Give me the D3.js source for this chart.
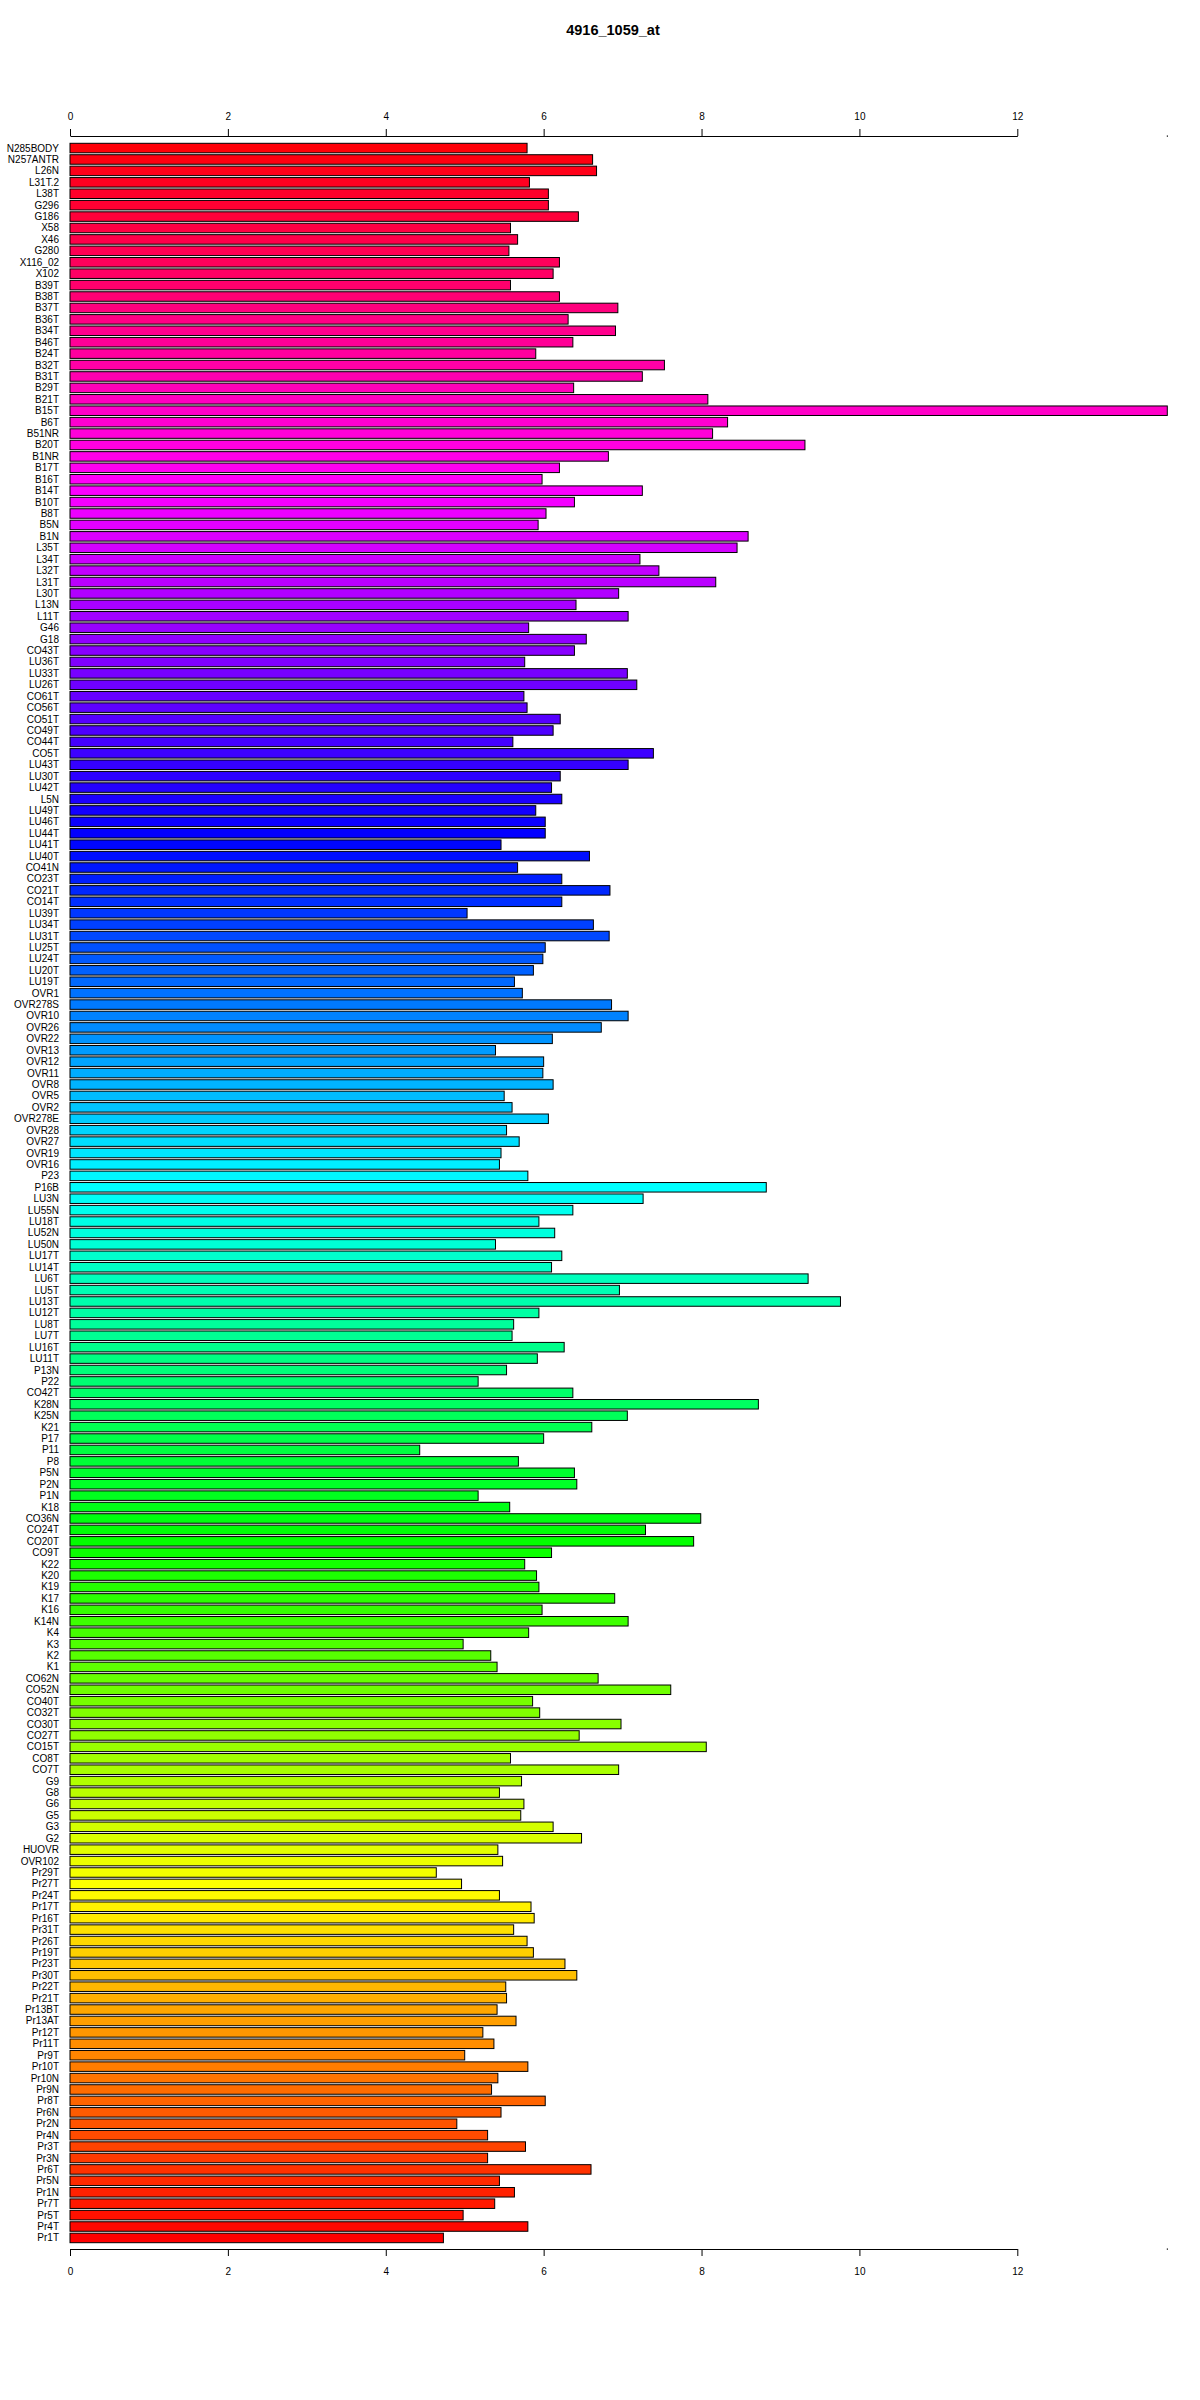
<!DOCTYPE html>
<html>
<head>
<meta charset="utf-8">
<script src="https://cdn.jsdelivr.net/npm/d3@7"></script>
<style>
  html, body { margin: 0; padding: 0; background: #fff; }
  svg { display: block; }
  text { font-family: "Liberation Sans", Arial, sans-serif; }
</style>
</head>
<body>
<div id="chart"></div>
<script>
// Categories, top to bottom as drawn
const categories = [
  "N285BODY","N257ANTR","L26N","L31T.2","L38T","G296","G186","X58","X46","G280","X116_02","X102","B39T",
  "B38T","B37T","B36T","B34T","B46T","B24T","B32T","B31T","B29T","B21T","B15T","B6T","B51NR","B20T","B1NR",
  "B17T","B16T","B14T","B10T","B8T","B5N","B1N","L35T","L34T","L32T","L31T","L30T","L13N","L11T","G46","G18",
  "CO43T","LU36T","LU33T","LU26T","CO61T","CO56T","CO51T","CO49T","CO44T","CO5T","LU43T","LU30T","LU42T","L5N","LU49T",
  "LU46T","LU44T","LU41T","LU40T","CO41N","CO23T","CO21T","CO14T","LU39T","LU34T","LU31T","LU25T","LU24T","LU20T","LU19T",
  "OVR1","OVR278S","OVR10","OVR26","OVR22","OVR13","OVR12","OVR11","OVR8","OVR5","OVR2","OVR278E","OVR28","OVR27","OVR19",
  "OVR16","P23","P16B","LU3N","LU55N","LU18T","LU52N","LU50N","LU17T","LU14T","LU6T","LU5T","LU13T","LU12T","LU8T","LU7T",
  "LU16T","LU11T","P13N","P22","CO42T","K28N","K25N","K21","P17","P11","P8","P5N","P2N","P1N","K18",
  "CO36N","CO24T","CO20T","CO9T","K22","K20","K19","K17","K16","K14N","K4","K3","K2","K1","CO62N",
  "CO52N","CO40T","CO32T","CO30T","CO27T","CO15T","CO8T","CO7T","G9","G8","G6","G5","G3","G2","HUOVR","OVR102",
  "Pr29T","Pr27T","Pr24T","Pr17T","Pr16T","Pr31T","Pr26T","Pr19T","Pr23T","Pr30T","Pr22T","Pr21T","Pr13BT","Pr13AT","Pr12T",
  "Pr11T","Pr9T","Pr10T","Pr10N","Pr9N","Pr8T","Pr6N","Pr2N","Pr4N","Pr3T","Pr3N","Pr6T","Pr5N","Pr1N","Pr7T","Pr5T","Pr4T","Pr1T"
];

// Expression values, same order
const values = [
  5.79,6.62,6.67,5.82,6.06,6.06,6.44,5.58,5.67,5.56,6.20,6.12,5.58,
  6.20,6.94,6.31,6.91,6.37,5.90,7.53,7.25,6.38,8.08,13.90,8.33,8.14,9.31,6.82,
  6.20,5.98,7.25,6.39,6.03,5.93,8.59,8.45,7.22,7.46,8.18,6.95,6.41,7.07,5.81,6.54,
  6.39,5.76,7.06,7.18,5.75,5.79,6.21,6.12,5.61,7.39,7.07,6.21,6.10,6.23,5.90,
  6.02,6.02,5.46,6.58,5.67,6.23,6.84,6.23,5.03,6.63,6.83,6.02,5.99,5.87,5.63,
  5.73,6.86,7.07,6.73,6.11,5.39,6.00,5.99,6.12,5.50,5.60,6.06,5.53,5.69,5.46,
  5.44,5.80,8.82,7.26,6.37,5.94,6.14,5.39,6.23,6.10,9.35,6.96,9.76,5.94,5.62,5.60,
  6.26,5.92,5.53,5.17,6.37,8.72,7.06,6.61,6.00,4.43,5.68,6.39,6.42,5.17,5.57,
  7.99,7.29,7.90,6.10,5.76,5.91,5.94,6.90,5.98,7.07,5.81,4.98,5.33,5.41,6.69,
  7.61,5.86,5.95,6.98,6.45,8.06,5.58,6.95,5.72,5.44,5.75,5.71,6.12,6.48,5.42,5.48,
  4.64,4.96,5.44,5.84,5.88,5.62,5.79,5.87,6.27,6.42,5.52,5.53,5.41,5.65,5.23,
  5.37,5.00,5.80,5.42,5.34,6.02,5.46,4.90,5.29,5.77,5.29,6.60,5.44,5.63,5.38,4.98,5.80,4.73
];

const tickValues = [0, 2, 4, 6, 8, 10, 12];
const title = "4916_1059_at";

const W = 1200, H = 2400;
const svg = d3.select("#chart").append("svg").attr("width", W).attr("height", H);

const x = d3.scaleLinear().domain([0, 12]).range([70, 1017.3]);
const y = d3.scaleBand().domain(categories).range([143.3, 2242.7])
  .paddingInner(1 / 6).paddingOuter(0);

const n = categories.length;
// R rainbow(n): first element (bottom bar) red, hue increases upward
const color = (i) => {
  const k = n - 1 - i; // index from bottom
  return d3.hsl((k / n) * 360, 1, 0.5).formatHex();
};

svg.append("text")
  .attr("x", 613).attr("y", 35)
  .attr("text-anchor", "middle")
  .attr("font-weight", "bold")
  .attr("font-size", 14.5)
  .text(title);

svg.append("g").selectAll("rect")
  .data(values)
  .join("rect")
  .attr("x", x(0))
  .attr("y", (d, i) => y(categories[i]))
  .attr("width", d => x(d) - x(0))
  .attr("height", y.bandwidth())
  .attr("fill", (d, i) => color(i))
  .attr("stroke", "#000")
  .attr("stroke-width", 1);

// category labels
svg.append("g").selectAll("text")
  .data(categories)
  .join("text")
  .attr("x", 59)
  .attr("y", d => y(d) + y.bandwidth() / 2)
  .attr("dy", "0.35em")
  .attr("text-anchor", "end")
  .attr("font-size", 10)
  .text(d => d);

// top axis
const topAxis = d3.axisTop(x).tickValues(tickValues).tickSize(7).tickSizeOuter(0).tickPadding(9);
const gTop = svg.append("g").attr("transform", "translate(0,136)").call(topAxis);
// bottom axis
const botAxis = d3.axisBottom(x).tickValues(tickValues).tickSize(7).tickSizeOuter(0).tickPadding(12);
const gBot = svg.append("g").attr("transform", "translate(0,2249)").call(botAxis);

[gTop, gBot].forEach(g => {
  g.select(".domain").attr("stroke", "#000").attr("stroke-width", 1.2);
  g.selectAll(".tick line").attr("stroke", "#000");
  g.selectAll(".tick text").attr("font-size", 10).attr("fill", "#000")
    .attr("font-family", "'Liberation Sans', Arial, sans-serif");
});

// small end marks at the far right of axis rows
const xMax = d3.max(values);
[136, 2249].forEach(yy => {
  svg.append("rect").attr("x", x(xMax) - 0.5).attr("y", yy - 0.5)
    .attr("width", 1.2).attr("height", 1.2).attr("fill", "#000");
});
</script>
</body>
</html>
